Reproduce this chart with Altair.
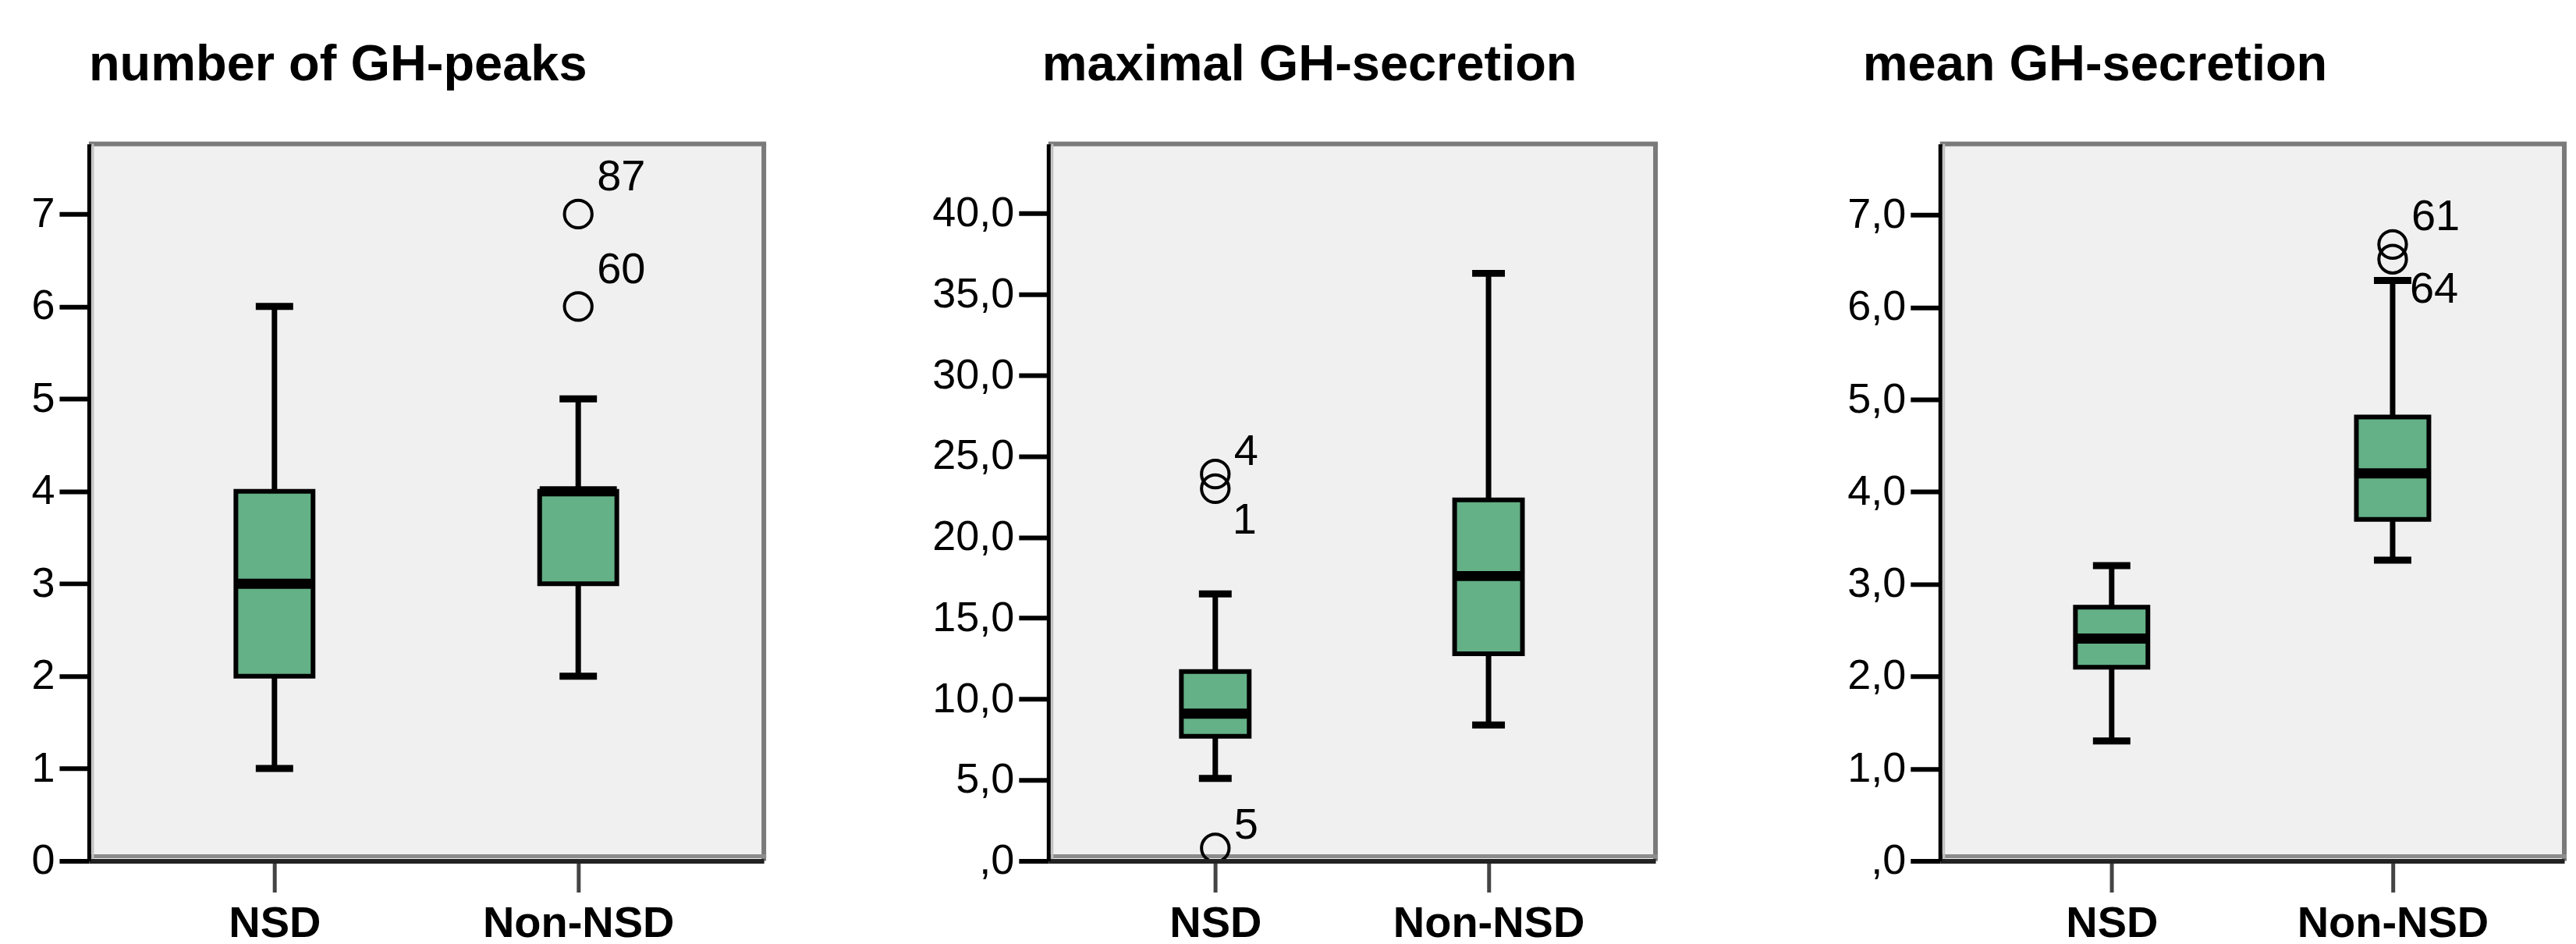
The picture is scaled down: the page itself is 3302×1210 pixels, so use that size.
import altair as alt
import pandas as pd

groups = ["NSD", "Non-NSD"]
titles = ["number of GH-peaks", "maximal GH-secretion", "mean GH-secretion"]

# number of GH-peaks
peaks_lower = [1, 2]
peaks_q1 = [2, 3]
peaks_median = [3, 4]
peaks_q3 = [4, 4]
peaks_upper = [6, 5]
peaks_out_group = ["Non-NSD", "Non-NSD"]
peaks_out_value = [7, 6]
peaks_out_label = ["87", "60"]
peaks_out_side = ["above", "above"]
peaks_ticks = [0, 1, 2, 3, 4, 5, 6, 7]

# maximal GH-secretion
maxgh_lower = [5.1, 8.4]
maxgh_q1 = [7.7, 12.8]
maxgh_median = [9.1, 17.6]
maxgh_q3 = [11.7, 22.3]
maxgh_upper = [16.5, 36.3]
maxgh_out_group = ["NSD", "NSD", "NSD"]
maxgh_out_value = [23.9, 23.0, 0.8]
maxgh_out_label = ["4", "1", "5"]
maxgh_out_side = ["above", "below", "above"]
maxgh_ticks = [0, 5, 10, 15, 20, 25, 30, 35, 40]

# mean GH-secretion
mean_lower = [1.3, 3.26]
mean_q1 = [2.1, 3.7]
mean_median = [2.41, 4.2]
mean_q3 = [2.75, 4.81]
mean_upper = [3.2, 6.29]
mean_out_group = ["Non-NSD", "Non-NSD"]
mean_out_value = [6.68, 6.52]
mean_out_label = ["61", "64"]
mean_out_side = ["above", "below"]
mean_ticks = [0, 1, 2, 3, 4, 5, 6, 7]

FONT = "Liberation Sans"
GREEN = "#64b087"
H = 920


def stats(lo, q1, med, q3, up):
    return pd.DataFrame({"group": groups, "lower": lo, "q1": q1, "median": med,
                         "q3": q3, "upper": up})


def outs(g, v, l, s):
    return pd.DataFrame({"group": g, "value": v, "label": l, "side": s})


def panel(sdf, odf, title, title_dx, W, ymax, ticks, label_expr, box_w, cap_w, above_dy, below_dy):
    xenc = alt.X("group:N", scale=alt.Scale(type="point", domain=groups, padding=0.611),
                 axis=alt.Axis(title=None, labelAngle=0, labelFont=FONT, labelFontSize=56,
                               labelFontWeight="bold", labelColor="black", labelBaseline="alphabetic",
                               labelPadding=57, labelLimit=600, tickSize=40, tickWidth=5,
                               tickColor="#444444", domainColor="#222222", domainWidth=6, zindex=1))
    yaxis = alt.Axis(title=None, values=ticks, labelExpr=label_expr, labelFont=FONT,
                     labelFontSize=54, labelColor="black", labelPadding=6, tickSize=38,
                     tickWidth=6, tickColor="black", domainColor="black", domainWidth=5,
                     grid=False, zindex=1)
    ysc = alt.Scale(domain=[0, ymax], nice=False, zero=True)

    base = alt.Chart(sdf)
    whisker = base.mark_rule(color="black", strokeWidth=7, opacity=1).encode(
        x=xenc, y=alt.Y("lower:Q", scale=ysc, axis=yaxis), y2="upper:Q")
    box = base.mark_bar(size=box_w, fill=GREEN, stroke="black", strokeWidth=6, opacity=1).encode(
        x=xenc, y=alt.Y("q1:Q", scale=ysc, axis=yaxis), y2="q3:Q")
    med = base.mark_tick(size=box_w, thickness=13, color="black", opacity=1).encode(
        x=xenc, y=alt.Y("median:Q", scale=ysc, axis=yaxis))
    cap_lo = base.mark_tick(size=cap_w, thickness=9, color="black", opacity=1).encode(
        x=xenc, y=alt.Y("lower:Q", scale=ysc, axis=yaxis))
    cap_hi = base.mark_tick(size=cap_w, thickness=9, color="black", opacity=1).encode(
        x=xenc, y=alt.Y("upper:Q", scale=ysc, axis=yaxis))

    ob = alt.Chart(odf)
    pts = ob.mark_point(shape="circle", filled=False, size=1250, strokeWidth=4, color="black",
                        opacity=1).encode(x=xenc, y=alt.Y("value:Q", scale=ysc, axis=yaxis))
    lab_a = ob.transform_filter(alt.datum.side == "above").mark_text(
        align="left", baseline="alphabetic", dx=24, dy=above_dy, font=FONT, fontSize=56,
        color="black").encode(x=xenc, y=alt.Y("value:Q", scale=ysc, axis=yaxis), text="label:N")
    lab_b = ob.transform_filter(alt.datum.side == "below").mark_text(
        align="left", baseline="top", dx=22, dy=below_dy, font=FONT, fontSize=56,
        color="black").encode(x=xenc, y=alt.Y("value:Q", scale=ysc, axis=yaxis), text="label:N")

    one = alt.Chart(pd.DataFrame({"k": [0]}))
    top = one.mark_rule(color="#7a7a7a", strokeWidth=6).encode(
        x=alt.value(0), x2=alt.value(W + 3), y=alt.value(0))
    right = one.mark_rule(color="#7a7a7a", strokeWidth=6).encode(
        x=alt.value(W), y=alt.value(0), y2=alt.value(H))
    bottom = one.mark_rule(color="#8c8c8c", strokeWidth=5).encode(
        x=alt.value(0), x2=alt.value(W + 3), y=alt.value(H - 6))
    inner_left = one.mark_rule(color="#c0c0c0", strokeWidth=3).encode(
        x=alt.value(5), y=alt.value(0), y2=alt.value(H))

    return alt.layer(top, right, bottom, inner_left, whisker, cap_lo, cap_hi, box, med, pts,
                     lab_a, lab_b).properties(
        width=W, height=H,
        title=alt.TitleParams(text=title, anchor="start", dx=title_dx, fontSize=65, font=FONT,
                              fontWeight="bold", color="black", baseline="alphabetic",
                              offset=13, frame="group"))


int_expr = "format(datum.value, 'd')"
dec_expr = "datum.value == 0 ? ',0' : replace(format(datum.value, '.1f'), '.', ',')"

p1 = panel(stats(peaks_lower, peaks_q1, peaks_median, peaks_q3, peaks_upper),
           outs(peaks_out_group, peaks_out_value, peaks_out_label, peaks_out_side),
           titles[0], 0, 866, 7.76, peaks_ticks, int_expr, 99, 48, -30, 14)
p2 = panel(stats(maxgh_lower, maxgh_q1, maxgh_median, maxgh_q3, maxgh_upper),
           outs(maxgh_out_group, maxgh_out_value, maxgh_out_label, maxgh_out_side),
           titles[1], -8, 779, 44.3, maxgh_ticks, dec_expr, 87, 42, -12, 14)
p3 = panel(stats(mean_lower, mean_q1, mean_median, mean_q3, mean_upper),
           outs(mean_out_group, mean_out_value, mean_out_label, mean_out_side),
           titles[2], -99, 801, 7.77, mean_ticks, dec_expr, 93, 48, -18, 12)

chart = alt.hconcat(p1, p2, p3, spacing=365, bounds="flush").properties(
    padding={"left": 31, "top": 42, "right": 0, "bottom": 0},
    background="white"
).configure_view(stroke="transparent", fill="#f0f0f0")

chart.save("out.html", embed_options={"renderer": "svg", "actions": False})
